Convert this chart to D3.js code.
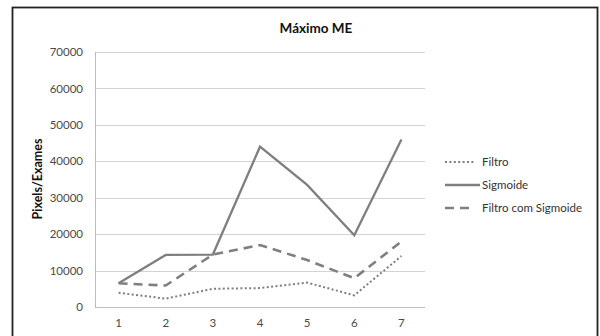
<!DOCTYPE html>
<html>
<head>
<meta charset="utf-8">
<script src="https://cdn.jsdelivr.net/npm/d3@7"></script>
<style>
  html, body { margin: 0; padding: 0; background: #fff; }
  svg { display: block; }
  text { font-family: Lato, "Open Sans", sans-serif; }
</style>
</head>
<body>
<script>
// Pontos da série (exames 1 a 7)
const categories = ["1", "2", "3", "4", "5", "6", "7"];
const filtro = [3900, 2300, 5000, 5200, 6700, 3200, 14000];
const sigmoide = [6500, 14300, 14400, 44000, 33500, 19700, 46000];
const filtroComSigmoide = [6500, 5900, 14400, 17000, 12900, 7900, 18000];
const yTicks = [0, 10000, 20000, 30000, 40000, 50000, 60000, 70000];
const seriesNames = ["Filtro", "Sigmoide", "Filtro com Sigmoide"];

const W = 600, H = 336;
const svg = d3.select("body").append("svg").attr("width", W).attr("height", H);

// moldura do gráfico
svg.append("rect")
  .attr("x", 12.5).attr("y", 7.5).attr("width", 585).attr("height", 340)
  .attr("fill", "#fff").attr("stroke", "#222").attr("stroke-width", 1.8);

const plot = { left: 95, right: 425, top: 52, bottom: 307 };

const x = d3.scaleBand().domain(categories).range([plot.left, plot.right]);
const y = d3.scaleLinear().domain([0, 70000]).range([plot.bottom, plot.top]);

// linhas de grade
svg.append("g").selectAll("line").data(yTicks.slice(1)).join("line")
  .attr("x1", plot.left).attr("x2", plot.right)
  .attr("y1", d => Math.round(y(d)) + 0.5).attr("y2", d => Math.round(y(d)) + 0.5)
  .attr("stroke", "#d4d4d4").attr("stroke-width", 1);

// eixos
svg.append("line")
  .attr("x1", plot.left + 0.5).attr("x2", plot.left + 0.5)
  .attr("y1", plot.top).attr("y2", plot.bottom)
  .attr("stroke", "#bdbdbd");
svg.append("line")
  .attr("x1", plot.left).attr("x2", plot.right)
  .attr("y1", plot.bottom + 0.5).attr("y2", plot.bottom + 0.5)
  .attr("stroke", "#bdbdbd");

// rótulos do eixo Y
const yAxis = d3.axisLeft(y).tickValues(yTicks).tickSize(0).tickPadding(12).tickFormat(d3.format("d"));
const gy = svg.append("g").attr("transform", `translate(${plot.left},0)`).call(yAxis);
gy.select(".domain").remove();
gy.selectAll("text").attr("font-size", 11.5).attr("fill", "#4a4a4a")
  .style("font-family", "Lato, 'Open Sans', sans-serif");

// rótulos do eixo X
const xAxis = d3.axisBottom(x).tickSize(0).tickPadding(12);
const gx = svg.append("g").attr("transform", `translate(0,${plot.bottom})`).call(xAxis);
gx.select(".domain").remove();
gx.selectAll("text").attr("font-size", 11.5).attr("fill", "#4a4a4a")
  .style("font-family", "Lato, 'Open Sans', sans-serif");

// título
svg.append("text").attr("x", 316).attr("y", 33).attr("text-anchor", "middle")
  .attr("font-size", 13.5).attr("font-weight", "bold").attr("fill", "#111")
  .text("Máximo ME");

// título do eixo Y
svg.append("text")
  .attr("transform", "translate(42,179) rotate(-90)")
  .attr("text-anchor", "middle")
  .attr("font-size", 12.5).attr("font-weight", "bold").attr("fill", "#111")
  .text("Pixels/Exames");

const styles = [
  { dash: "2,2.4", width: 2, cap: "butt" },
  { dash: null, width: 2.3, cap: "butt" },
  { dash: "9,6", width: 2.6, cap: "butt" }
];
const allSeries = [filtro, sigmoide, filtroComSigmoide];
const lineColor = "#7f7f7f";

const line = d3.line()
  .x((d, i) => x(categories[i]) + x.bandwidth() / 2)
  .y(d => y(d));

allSeries.forEach((vals, k) => {
  svg.append("path")
    .datum(vals)
    .attr("d", line)
    .attr("fill", "none")
    .attr("stroke", lineColor)
    .attr("stroke-width", styles[k].width)
    .attr("stroke-linejoin", "miter")
    .attr("stroke-linecap", styles[k].cap)
    .attr("stroke-dasharray", styles[k].dash);
});

// legenda
const legendY = [166, 189, 212];
const lg = svg.append("g");
seriesNames.forEach((name, k) => {
  lg.append("line")
    .attr("x1", 445).attr("x2", k === 1 ? 480 : 475)
    .attr("y1", legendY[k] - 4).attr("y2", legendY[k] - 4)
    .attr("stroke", lineColor)
    .attr("stroke-width", styles[k].width)
    .attr("stroke-dasharray", styles[k].dash);
  lg.append("text")
    .attr("x", 482).attr("y", legendY[k])
    .attr("font-size", 11.5).attr("fill", "#333")
    .text(name);
});
</script>
</body>
</html>
